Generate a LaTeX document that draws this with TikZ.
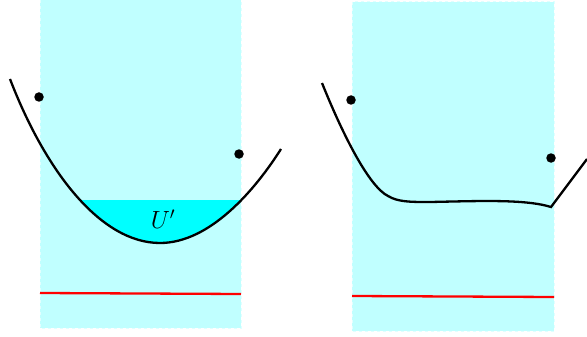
\documentclass[tikz,border=0pt]{standalone}
\definecolor{aqua}{RGB}{0,255,255}
\definecolor{lightaqua}{RGB}{192,255,255}
\definecolor{paleaqua}{RGB}{225,255,255}
\begin{document}
\begin{tikzpicture}[x=1pt,y=-1pt,
  region/.style={fill=lightaqua,draw=paleaqua,dashed,line width=1pt},
  curve/.style={line width=2.3pt,black},
  base/.style={line width=2.3pt,red},
  pt/.style={circle,fill=black,inner sep=0pt,minimum size=9.5pt}]
\useasboundingbox (0,0) rectangle (587,337);
% left panel
\draw[region] (40,0) rectangle (241,328);
\begin{scope}
  \clip (40,200) rectangle (241,337);
  \fill[aqua] (10,79) .. controls (45,170) and (100,243) .. (160,243) .. controls (210,243) and (255,190) .. (281,149) -- cycle;
\end{scope}
\draw[curve] (10,79) .. controls (45,170) and (100,243) .. (160,243) .. controls (210,243) and (255,190) .. (281,149);
\node[pt] (p1) at (39,97) {};
\node[pt] (p2) at (239,154) {};
\node[font=\fontsize{25}{30}\selectfont] (u) at (163,219) {$U'$};
\coordinate (r1a) at (40,293);
\coordinate (r1b) at (241,294);
\draw[base] (r1a) -- (r1b);
% right panel
\draw[region] (352,2) rectangle (554,331);
\draw[curve] (322,83) .. controls (345,140) and (370,187) .. (388,196) .. controls (398,202) and (410,202) .. (430,202) .. controls (480,201) and (525,199) .. (551,207) -- (587,159);
\node[pt] (q1) at (351,100) {};
\node[pt] (q2) at (551,158) {};
\coordinate (r2a) at (352,296);
\coordinate (r2b) at (554,297);
\draw[base] (r2a) -- (r2b);
\end{tikzpicture}
\end{document}
